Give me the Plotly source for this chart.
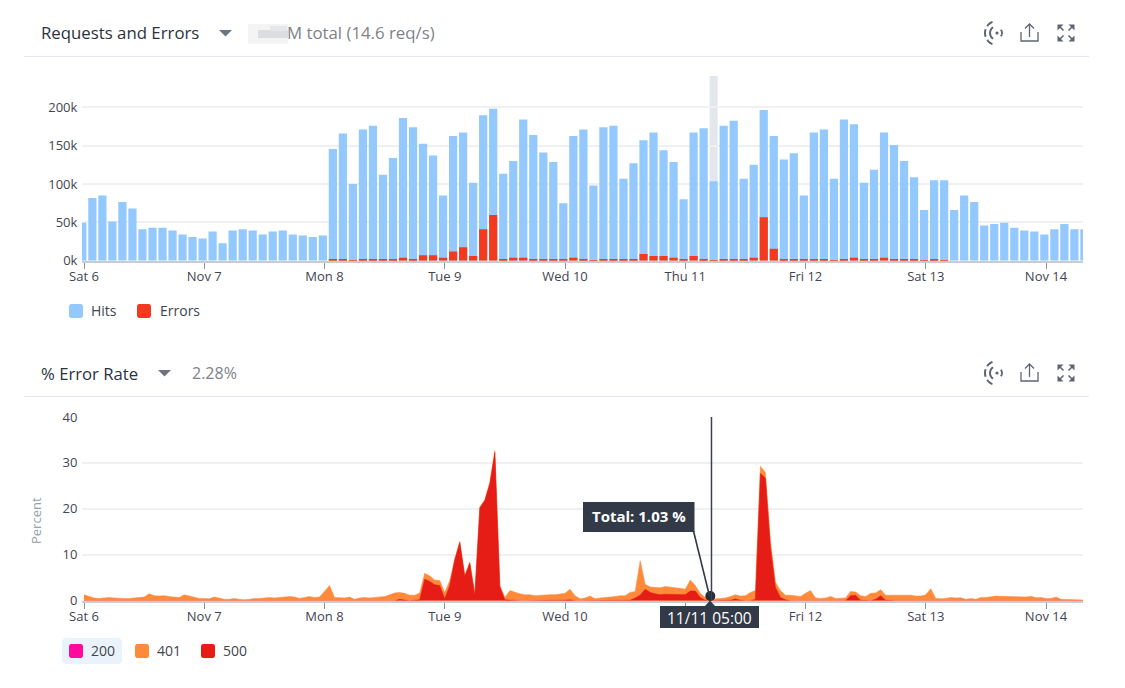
import numpy as np
import pandas as pd
import plotly.graph_objects as go

W, H = 1125, 688

# ---------- data ----------
hits_k = [
    49.6, 81.7, 85, 51, 76.5, 68, 41, 43, 43, 39.5,
    34, 31, 29, 38, 22.6, 39.5, 41, 39.5, 34, 38,
    39.5, 34, 33, 31, 33, 145.6, 166, 100, 171, 176,
    112, 134, 186, 174, 152.6, 137, 85, 162.6, 167, 101.7,
    189.6, 198, 113.5, 130, 184, 164, 141, 128.7, 74.8, 162.6,
    171, 98, 174, 176, 107, 127, 157, 167, 144, 128.7,
    80, 167, 172.6, 103.5, 176, 182.6, 107, 125, 196.5, 162.6,
    132, 140, 85, 167, 171, 107, 184, 178, 101.7, 118.7,
    167, 151, 130, 108.7, 66, 105, 105, 66, 85, 76.5,
    46, 47.8, 49.6, 43, 39.5, 38, 34, 41, 47.8, 41, 41,
]
errors_k = [
    0, 0, 0, 0, 0, 0, 0, 0, 0, 0,
    0, 0, 0, 0, 0, 0, 0, 0, 0, 0,
    0, 0, 0, 0, 0, 2, 2, 0.3, 2, 2,
    2, 2, 4, 2, 7, 7, 4, 12, 17.4, 6,
    41, 59.6, 2, 4, 4, 2, 2, 2, 2, 4,
    2, 0.5, 2, 2, 2, 2, 8.7, 6, 6, 4,
    2, 6, 2, 0.5, 2, 2, 2, 4, 56.5, 15.6,
    2, 2, 2, 2, 2, 0.5, 2, 4, 2, 2,
    4, 2, 2, 2, 0.3, 2, 0.3, 0, 0, 0,
    0, 0, 0, 0, 0, 0, 0, 0, 0, 0, 0,
]
total_pct = [
    1.3, 1.0, .6, .5, .6, .7, .6, .5, .5, .5,
    .6, .7, .8, 1.5, 1.1, 1.0, 1.1, .9, .8, .7,
    1.3, 1.0, .7, .5, .5, .4, .8, .6, .3, .3,
    .5, .3, .2, .3, .5, .5, .6, .7, .6, .7,
    .8, .9, .8, .5, .7, .9, .7, .8, 2.0, 3.3,
    .7, .7, .6, .8, .3, .6, .7, .6, .7, .8,
    .9, 1.3, 1.7, 1.8, 1.6, 1.2, 1.2, 1.7, 6.0, 5.4,
    4.5, 4.4, 1.8, 4.4, 9.1, 12.9, 5.5, 8.4, 1.5, 20.4,
    22, 25.8, 32.7, 3.3, .7, 2.2, 1.8, 1.5, 1.3, 1.3,
    1.1, 1.2, 1.2, 1.3, 1.3, 1.4, 1.6, 2.5, 1.1, .4,
    .6, 1.0, .4, .6, .7, .7, .9, 1.1, 1.1, 1.8,
    2, 8.7, 3.6, 3, 2.9, 2.8, 3.1, 2.9, 2.8, 2.7,
    2.5, 4.5, 3.3, 1.6, .7, 1.03, .4, .5, .6, .9,
    1.3, 1.0, 1.1, 1.8, 2.2, 29.3, 27.9, 13.1, 4, 2.2,
    1.2, 1.2, 1.1, .9, 1.6, 2.2, .6, .5, .6, .9,
    .5, .6, .6, 2.0, 1.9, 1.1, .9, 1.6, 1.7, 2.4,
    1.2, 1.2, 1.2, 1.2, 1.3, 1.2, 1, 1, 1.3, 2.6,
    .5, .4, .5, .7, .6, .65, .3, .5, .3, .7,
    .7, .9, 1, .95, .9, .8, .8, .8, .8, .95,
    .65, .7, .5, .5, .8, .3, .3, .3, .2, .15, .15,
]
e500_pct = [
    0, 0, 0, 0, 0, 0, 0, 0, 0, 0,
    0, 0, 0, 0, 0, 0, 0, 0, 0, 0,
    0, 0, 0, 0, 0, 0, 0, 0, 0, 0,
    0, 0, 0, 0, 0, 0, 0, 0, 0, 0,
    0, 0, 0, 0, 0, 0, 0, 0, 0, 0,
    0, 0, 0, 0, 0, 0, 0, 0, 0, 0,
    0, 0, 0, .3, .1, 0, .1, .2, 4.7, 4.2,
    3.5, 3.3, .4, 3.3, 8.9, 12.7, 5.3, 8.2, 1.2, 20.2,
    21.8, 25.5, 32.3, 3, .2, .1, .1, 0, 0, 0,
    0, 0, 0, .1, .1, .1, .1, .2, 0, 0,
    0, 0, 0, 0, .1, .1, 0, 0, 0, .1,
    .6, 1.2, 2.5, 1.8, 1.5, 1.3, 1.4, 1.4, 1.4, 1.3,
    1.3, 2.1, 2.1, .7, .1, 0, 0, 0, 0, .1,
    .4, .1, 0, 0, .3, 27.7, 26.7, 11.7, 2.9, .7,
    .2, 0, 0, 0, 0, 0, 0, 0, 0, 0,
    0, 0, 0, 1.1, 1.2, .1, 0, 0, .3, 1.1,
    .1, 0, 0, 0, 0, 0, 0, 0, 0, 0,
    0, 0, 0, 0, 0, 0, 0, 0, 0, 0,
    0, 0, 0, 0, 0, 0, 0, 0, 0, 0,
    0, 0, 0, 0, 0, 0, 0, 0, 0, 0, 0,
]
tick_dates = ["2021-11-06", "2021-11-07", "2021-11-08", "2021-11-09", "2021-11-10",
              "2021-11-11", "2021-11-12", "2021-11-13", "2021-11-14"]
tick_labels = ["Sat 6", "Nov 7", "Mon 8", "Tue 9", "Wed 10", "Thu 11", "Fri 12", "Sat 13", "Nov 14"]
# The tooltip date box hides the "Thu 11" label of the lower chart in the picture.
tick_labels_lower = ["Sat 6", "Nov 7", "Mon 8", "Tue 9", "Wed 10", "", "Fri 12", "Sat 13", "Nov 14"]
req_ticks = [0, 50, 100, 150, 200]
req_tick_labels = ["0k", "50k", "100k", "150k", "200k"]
pct_ticks = [0, 10, 20, 30, 40]
hover_bar = 63
hover_hour = 125

bar_times = pd.date_range("2021-11-05 23:40", periods=len(hits_k), freq="2h")
hour_times = pd.date_range("2021-11-06 00:00", periods=len(total_pct), freq="h")

# ---------- style ----------
FONT = "Open Sans"
DARK = "#2b3240"
TICK = "#3f4551"
MUTED = "#7d828a"
GRID = "#eef0f3"
AXIS = "#c9ccd1"
TIP = "#333a47"
C_HITS = "#93c9ff"
C_ERR = "#f43a1e"
C_200 = "#ff0a9c"
C_401 = "#ff8a3a"
C_500 = "#e61c17"

PLOT_L, PLOT_R = 82, 1083
T1, B1 = 76, 260.7
T2, B2 = 417, 600.7
X_RANGE = ["2021-11-05 23:36", "2021-11-14 07:23"]


def px(x):
    return x / W


def py(y):
    return 1 - y / H


fig = go.Figure()
fig.add_bar(x=bar_times, y=hits_k, name="Hits", marker=dict(color=C_HITS, line_width=0),
            xaxis="x", yaxis="y", showlegend=False)
fig.add_bar(x=bar_times, y=errors_k, name="Errors", marker=dict(color=C_ERR, line_width=0),
            xaxis="x", yaxis="y", showlegend=False)
fig.add_scatter(x=hour_times, y=total_pct, name="401", mode="lines", fill="tozeroy",
                fillcolor=C_401, line=dict(color=C_401, width=0.5),
                xaxis="x2", yaxis="y2", showlegend=False)
fig.add_scatter(x=hour_times, y=e500_pct, name="500", mode="lines", fill="tozeroy",
                fillcolor=C_500, line=dict(color=C_500, width=0.5),
                xaxis="x2", yaxis="y2", showlegend=False)
fig.add_scatter(x=[hour_times[hover_hour]], y=[total_pct[hover_hour]], mode="markers",
                marker=dict(color="#252b37", size=10), xaxis="x2", yaxis="y2",
                showlegend=False, cliponaxis=False, name="Total")

shapes = []
annots = []


def text(x, y, s, size=13, color=TICK, anchor="left", bold=False, angle=0):
    annots.append(dict(x=px(x), y=py(y), xref="paper", yref="paper", text=f"<b>{s}</b>" if bold else s,
                       showarrow=False, xanchor=anchor, yanchor="middle", textangle=angle,
                       borderpad=0, borderwidth=0,
                       font=dict(family=FONT, size=size, color=color)))


def rect(x0, y0, x1, y1, color, layer="above"):
    shapes.append(dict(type="rect", xref="paper", yref="paper", x0=px(x0), x1=px(x1),
                       y0=py(y0), y1=py(y1), fillcolor=color, line_width=0, layer=layer))


def hline(x0, x1, y, color, width=1):
    shapes.append(dict(type="line", xref="paper", yref="paper", x0=px(x0), x1=px(x1),
                       y0=py(y), y1=py(y), line=dict(color=color, width=width)))


def path(points, color=None, line=None, width=1.6, close=False):
    d = ""
    for i, (x, y) in enumerate(points):
        d += ("M" if i == 0 else "L") + f"{px(x):.5f},{py(y):.5f}"
    if close:
        d += "Z"
    s = dict(type="path", xref="paper", yref="paper", path=d)
    s["fillcolor"] = color if color else "rgba(0,0,0,0)"
    s["line"] = dict(color=line, width=width) if line else dict(width=0)
    shapes.append(s)


def round_square(x0, y0, x1, y1, r, color):
    pts = []
    corners = [(x1 - r, y0 + r, -90), (x1 - r, y1 - r, 0), (x0 + r, y1 - r, 90), (x0 + r, y0 + r, 180)]
    for cx, cy, a0 in corners:
        for a in np.radians(np.linspace(a0, a0 + 90, 6)):
            pts.append((cx + r * np.cos(a), cy + r * np.sin(a)))
    path(pts, color=color, close=True)


def arc(cx, cy, r, a0, a1, color, width=1.6):
    pts = [(cx + r * np.cos(a), cy + r * np.sin(a)) for a in np.radians(np.linspace(a0, a1, 10))]
    path(pts, line=color, width=width)


ICON = "#5f6570"


def icons(y):
    # signal icon
    cx, cy = 997, y
    shapes.append(dict(type="circle", xref="paper", yref="paper", x0=px(cx - 1.6), x1=px(cx + 1.6),
                       y0=py(cy - 1.6), y1=py(cy + 1.6), fillcolor=ICON, line_width=0))
    arc(cx, cy, 5, -40, 40, ICON, 1.8)
    arc(cx, cy, 7, 125, 235, ICON, 2)
    arc(cx, cy, 12, 112, 145, ICON, 2)
    arc(cx, cy, 12, 162, 198, ICON, 2)
    arc(cx, cy, 12, 215, 248, ICON, 2)
    # upload icon
    path([(1021, y - 1), (1021, y + 8), (1038, y + 8), (1038, y - 1)], line=ICON, width=1.3)
    path([(1029.5, y + 4), (1029.5, y - 9)], line=ICON, width=1.3)
    path([(1025, y - 4.5), (1029.5, y - 9), (1034, y - 4.5)], line=ICON, width=1.3)
    # expand icon
    for sx, sy in [(-1, -1), (1, -1), (-1, 1), (1, 1)]:
        ox, oy = 1066 + sx * 8.5, y + sy * 8.5
        path([(ox, oy), (ox - sx * 6, oy), (ox, oy - sy * 6)], color=ICON, close=True)
        path([(ox - sx * 2, oy - sy * 2), (ox - sx * 6, oy - sy * 6)], line=ICON, width=1.6)


def caret(x, y):
    path([(x - 6.5, y - 3), (x + 6.5, y - 3), (x, y + 3.5)], color="#6d7480", close=True)


# Header one
text(41, 33, "Requests and Errors", size=16.8, color=DARK)
caret(225.5, 33)
rect(248, 24, 288, 44, "#f4f4f5")
rect(258, 30, 288, 38, "#dcdddf")
rect(270, 26, 287, 31, "#e6e7e8")
text(287, 33, "M total (14.6 req/s)", size=16.8, color=MUTED)
icons(33)
hline(24, 1089, 56.5, "#e4e8ee", 1)

# Legend one
round_square(69, 304, 83, 318, 2.5, C_HITS)
text(91, 310.3, "Hits", size=14, color=TICK)
round_square(137, 304, 151, 318, 2.5, C_ERR)
text(160, 310.3, "Errors", size=14, color=TICK)

# Header two
text(41, 373, "% Error Rate", size=16.7, color=DARK)
caret(164.5, 373)
text(192, 373, "2.28%", size=16, color=MUTED)
icons(373)
hline(24, 1089, 396.5, "#e4e8ee", 1)
text(36, 521, "Percent", size=13, color="#9aa0a8", anchor="center", angle=-90)

# Legend two
round_square(62, 638, 122, 664, 4, "#eaf3fb")
round_square(69, 644, 83, 658, 2.5, C_200)
text(91, 650.3, "200", size=14, color=TICK)
round_square(135, 644, 149, 658, 2.5, C_401)
text(157, 650.3, "401", size=14, color=TICK)
round_square(201, 644, 215, 658, 2.5, C_500)
text(223, 650.3, "500", size=14, color=TICK)

# Hover band on the bar chart
half = pd.Timedelta(minutes=48)
shapes.append(dict(type="rect", xref="x", yref="paper",
                   x0=bar_times[hover_bar] - half, x1=bar_times[hover_bar] + half,
                   y0=py(B1), y1=py(T1), fillcolor="#e3e6ec", line_width=0, layer="below"))

# Hover line on the area chart
hover_line_at = hour_times[hover_hour] + pd.Timedelta(minutes=14)
shapes.append(dict(type="line", xref="x2", yref="y2", x0=hover_line_at, x1=hover_line_at,
                   y0=0, y1=pct_ticks[-1], line=dict(color="#3b414d", width=1.5)))
# Tooltip
rect(583, 502, 694.5, 532, TIP)
path([(693.5, 531), (709.5, 596)], line=TIP, width=1.6)
text(638.5, 515.5, "Total: 1.03 %", size=15, color="#ffffff", anchor="center", bold=True)
rect(660, 606, 759, 628, TIP)
path([(705, 606), (710, 600.5), (715, 606)], color=TIP, close=True)
text(709.8, 617.7, "11/11 05:00", size=15.5, color="#ffffff", anchor="center")

xcommon = dict(type="date", range=X_RANGE, tickmode="array", tickvals=tick_dates,
               showgrid=False, showline=True, linecolor=AXIS, linewidth=2, zeroline=False,
               ticks="outside", ticklen=6, tickwidth=1, tickcolor="#8d9299", automargin=False,
               ticklabelstandoff=-3,
               tickfont=dict(family=FONT, size=13, color=TICK), domain=[px(PLOT_L), px(PLOT_R)],
               fixedrange=True)
ycommon = dict(showgrid=True, gridcolor=GRID, gridwidth=1.5, zeroline=False, showline=False,
               ticks="outside", ticklen=1, tickcolor="rgba(0,0,0,0)", automargin=False,
               tickfont=dict(family=FONT, size=13, color=TICK), fixedrange=True)

fig.update_layout(
    width=W, height=H, margin=dict(l=0, r=0, t=0, b=0), paper_bgcolor="white", plot_bgcolor="white",
    barmode="overlay", bargap=0.18, showlegend=False,
    font=dict(family=FONT),
    xaxis=dict(**xcommon, anchor="y", ticktext=tick_labels),
    xaxis2=dict(**xcommon, anchor="y2", ticktext=tick_labels_lower),
    yaxis=dict(**ycommon, anchor="x", domain=[py(B1), py(T1)],
               range=[0, (B1 - T1) / (B1 - 107.3) * 200],
               tickmode="array", tickvals=req_ticks, ticktext=req_tick_labels),
    yaxis2=dict(**ycommon, anchor="x2", domain=[py(B2), py(T2)], range=[0, 40],
                tickmode="array", tickvals=pct_ticks),
    shapes=shapes, annotations=annots,
)

fig.write_html("out.html", config={"displayModeBar": False},
               post_script="document.body.style.margin='0';document.body.style.overflow='hidden';")
